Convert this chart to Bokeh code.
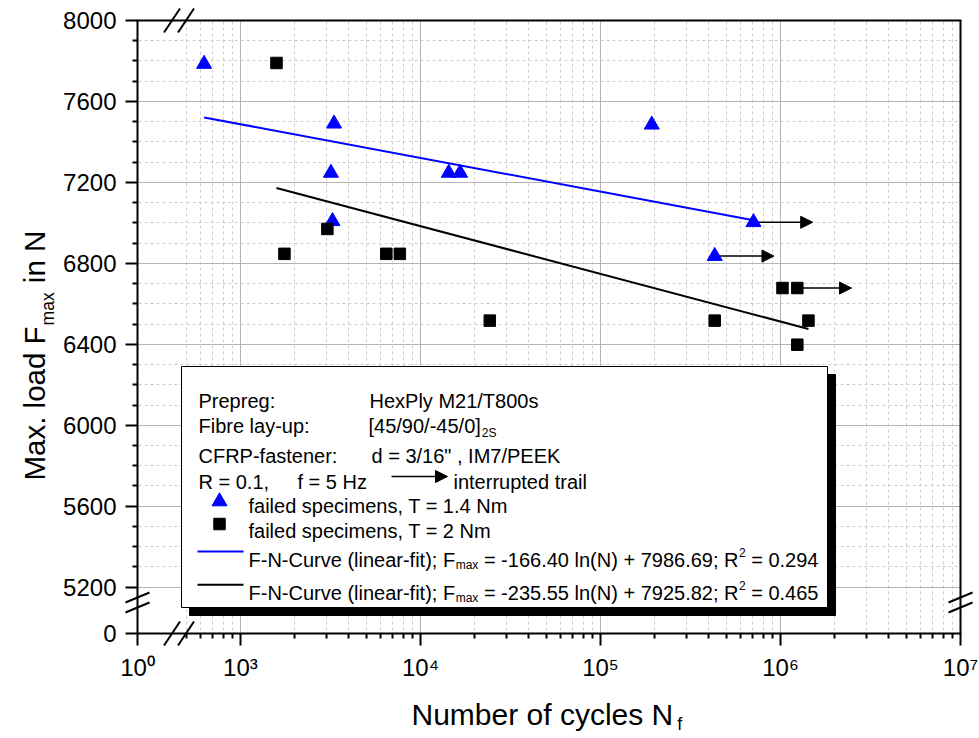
import math
from bokeh.plotting import figure
from bokeh.models import (Range1d, LinearScale, FixedTicker, Label, Arrow,
                          NormalHead, BoxAnnotation)
from bokeh.embed import file_html
from bokeh.resources import INLINE

# ---------------- data ----------------
cycles_t14 = [628, 3310, 3180, 3245, 14360, 16600, 192700, 708000, 431000]
load_t14 = [7785, 7490, 7247, 7008, 7247, 7247, 7485, 7003, 6836]

cycles_t20 = [1585, 1755, 3040, 6460, 7680, 24270, 431000, 1026000, 1240000, 1240000, 1430000]
load_t20 = [7790, 6847, 6970, 6847, 6847, 6517, 6517, 6678, 6678, 6398, 6517]

# interrupted trials (run-outs): arrow start, load level and arrow tip
runout_start = [708000, 431000, 1240000]
runout_load = [7003, 6836, 6678]
runout_end = [1510000, 920000, 2480000]

# fit lines: slope, intercept (F = a*log(N) + b, as drawn) and N extents
fit_t14 = [-166.40, 7986.69]
fit_t14_n = [628, 708000]
fit_t20 = [-235.55, 7925.82]
fit_t20_n = [1585, 1430000]

# axes (broken): "10^0" and "0" sit at the start of the broken axes
x_origin = 10 ** 2.428
y_origin = 4971
x_major = [x_origin, 1e3, 1e4, 1e5, 1e6, 1e7]
x_labels = ["10\u2070", "10\u00b3", "10\u2074", "10\u2075", "10\u2076", "10\u2077"]
x_minor = [k * 10 ** e for e in range(2, 7) for k in range(2, 10) if k * 10 ** e >= 500]
y_major = [y_origin] + list(range(5200, 8001, 400))
y_labels = ["0"] + [str(v) for v in range(5200, 8001, 400)]
y_minor = [v for v in range(5300, 8000, 100) if (v - 5200) % 400 != 0]

BLUE = "#0000ff"
FONT = "Liberation Sans"

# ---------------- layout geometry (page pixels) ----------------
W, H = 979, 738
FL, FR, FT, FB = 137, 960, 20, 633      # visible axes box
DEC = (FR - FL) / (7 - math.log10(x_origin))   # px per decade
KY = (FB - FT) / (8000 - y_origin)             # px per N
x_lo = 10 ** (math.log10(x_origin) - FL / DEC)
x_hi = 10 ** (7 + (W - FR) / DEC)
y_lo = y_origin - (H - FB) / KY
y_hi = 8000 + FT / KY

p = figure(width=W, height=H, x_axis_type="log",
           x_range=Range1d(x_lo, x_hi), y_range=Range1d(y_lo, y_hi),
           output_backend="svg", toolbar_location=None, title=None,
           min_border=0, min_border_left=0, min_border_right=0,
           min_border_top=0, min_border_bottom=0)
p.background_fill_color = "white"
p.border_fill_color = "white"
p.outline_line_color = None

# page-pixel coordinate system for decorations (legend, titles, breaks)
p.extra_x_ranges = {"px": Range1d(0, W)}
p.extra_x_scales = {"px": LinearScale()}
p.extra_y_ranges = {"py": Range1d(H, 0)}
p.extra_y_scales = {"py": LinearScale()}

xt = FixedTicker(ticks=x_major, minor_ticks=x_minor)
yt = FixedTicker(ticks=y_major, minor_ticks=y_minor)
xa, ya = p.xaxis[0], p.yaxis[0]
xa.ticker = xt
ya.ticker = yt
p.xgrid[0].ticker = xt
p.ygrid[0].ticker = yt
xa.fixed_location = y_origin
ya.fixed_location = x_origin
xa.bounds = (x_origin, 1e7)
ya.bounds = (y_origin, 8000)
xa.major_label_overrides = {t: s for t, s in zip(x_major, x_labels)}
ya.major_label_overrides = {t: s for t, s in zip(y_major, y_labels)}

for ax in (xa, ya):
    ax.axis_line_width = 2
    ax.axis_line_color = "black"
    ax.major_tick_line_width = 2
    ax.minor_tick_line_width = 2
    ax.major_tick_in = 0
    ax.major_tick_out = 12
    ax.minor_tick_in = 0
    ax.minor_tick_out = 5
    ax.major_label_text_font = FONT
    ax.major_label_text_font_size = "24px"
    ax.major_label_text_color = "black"
xa.major_label_standoff = 8
ya.major_label_standoff = 9

for g in (p.xgrid[0], p.ygrid[0]):
    g.grid_line_color = "#b4b4b4"
    g.grid_line_width = 1
    g.minor_grid_line_color = "#cdcdcd"
    g.minor_grid_line_dash = "3 3"
    g.minor_grid_line_width = 1

# white masks outside the axes box (keep grid lines inside it)
for l, r, t, b in ((0, W, 0, FT), (0, W, FB, H), (0, FL, 0, H), (FR, W, 0, H)):
    p.add_layout(BoxAnnotation(left=l, right=r, top=t, bottom=b,
                               x_range_name="px", y_range_name="py", level="underlay",
                               fill_color="white", fill_alpha=1, line_color=None))

# ---------------- data marks ----------------
for a_b, ns, col in ((fit_t14, fit_t14_n, BLUE), (fit_t20, fit_t20_n, "black")):
    fy = [a_b[0] * math.log10(n) + a_b[1] for n in ns]
    p.line(ns, fy, line_color=col, line_width=2)

for xs, xe, yv in zip(runout_start, runout_end, runout_load):
    p.add_layout(Arrow(x_start=xs, y_start=yv, x_end=xe, y_end=yv,
                       line_color="black", line_width=1.5, level="underlay",
                       end=NormalHead(size=12, fill_color="black", line_color="black")))

p.scatter(cycles_t14, load_t14, marker="triangle", size=15, fill_color=BLUE,
          line_color=BLUE, line_width=1)
p.scatter(cycles_t20, load_t20, marker="square", size=11.5, fill_color="black",
          line_color="black", line_width=1)

# ---------------- helpers (page pixel coordinates) ----------------
Wd = {' ': 278, '!': 278, '"': 355, "'": 191, '(': 333, ')': 333, '+': 584, ',': 278,
      '-': 333, '.': 278, '/': 278, ':': 278, ';': 278, '=': 584, '[': 278, ']': 278}
for c in "0123456789":
    Wd[c] = 556
for c, w in zip("ABCDEFGHIJKLMNOPQRSTUVWXYZ",
                [667, 667, 722, 722, 667, 611, 778, 722, 278, 500, 667, 556, 833,
                 722, 778, 667, 778, 722, 667, 611, 722, 667, 944, 667, 667, 611]):
    Wd[c] = w
for c, w in zip("abcdefghijklmnopqrstuvwxyz",
                [556, 556, 500, 556, 556, 278, 556, 556, 222, 222, 500, 222, 833,
                 556, 556, 556, 556, 333, 500, 278, 556, 500, 722, 500, 500, 500]):
    Wd[c] = w


def tw(s, size):
    return sum(Wd.get(c, 556) for c in s) / 1000.0 * size


def txt(x, y, s, size, angle=0.0):
    p.add_layout(Label(x=x, y=y, x_range_name="px", y_range_name="py", text=s,
                       text_font=FONT, text_font_size=f"{size}px", text_color="black",
                       text_align="left", text_baseline="alphabetic", angle=angle))


def seg(x0, y0, x1, y1, width=2):
    p.add_layout(Arrow(x_start=x0, y_start=y0, x_end=x1, y_end=y1, end=None,
                       x_range_name="px", y_range_name="py",
                       line_color="black", line_width=width))


# ---------------- top / right frame lines and axis breaks ----------------
seg(FL - 1, FT, FR + 1, FT)
seg(FR, FT, FR, FB + 1)
for cx in (171.5, 185.5):
    for cy in (FT, FB):
        seg(cx - 8, cy + 12, cx + 8, cy - 12)
for cx in (FL, FR):
    for cy in (597, 607):
        seg(cx - 12, cy + 5, cx + 12, cy - 5)

# ---------------- axis titles ----------------
xt_fs, xt_sub = 30, 18
xt_x = 411
txt(xt_x, 714, "Number of cycles N", xt_fs)
txt(xt_x + tw("Number of cycles N", xt_fs) + 4, 723, "f", xt_sub)

yt_fs, yt_sub = 29.5, 17.5
yb, ys = 33.5, 480
w1 = tw("Max. load F", yt_fs)
txt(yb, ys, "Max. load F", yt_fs, angle=math.pi / 2)
txt(yb + 13.5, ys - w1 - 1, "max", yt_sub, angle=math.pi / 2)
txt(yb, ys - w1 - 2 - tw("max", yt_sub) - tw(" ", yt_fs), "in N", yt_fs, angle=math.pi / 2)

# ---------------- legend box ----------------
p.add_layout(BoxAnnotation(left=189, right=835, top=374, bottom=615,
                           x_range_name="px", y_range_name="py", level="underlay",
                           fill_color="black", fill_alpha=1, line_color="black", line_alpha=1))
p.add_layout(BoxAnnotation(left=181, right=827, top=366, bottom=607,
                           x_range_name="px", y_range_name="py", level="underlay",
                           fill_color="white", fill_alpha=1, line_color="black",
                           line_alpha=1, line_width=1))

LF = 20
txt(198, 400.7, "Prepreg:", LF)
txt(369, 400.7, "HexPly M21/T800s", LF)
txt(198, 425.7, "Fibre lay-up:", LF)
txt(368, 425.7, "[45/90/-45/0]", LF)
txt(368 + tw("[45/90/-45/0]", LF) + 1, 432.3, "2S", 12)
txt(198, 455.7, "CFRP-fastener:", LF)
txt(371, 455.7, "d = 3/16\" , IM7/PEEK", LF)
txt(198, 481.7, "R = 0.1,", LF)
txt(297, 481.7, "f = 5 Hz", LF)
p.add_layout(Arrow(x_start=391, y_start=476, x_end=447, y_end=476,
                   x_range_name="px", y_range_name="py", line_color="black", line_width=1.5,
                   end=NormalHead(size=12, fill_color="black", line_color="black")))
txt(453, 481.7, "interrupted trail", LF)

p.scatter([219], [501], x_range_name="px", y_range_name="py", marker="triangle",
          size=15, fill_color=BLUE, line_color=BLUE)
txt(248, 505.7, "failed specimens, T = 1.4 Nm", LF)
p.scatter([219], [523.5], x_range_name="px", y_range_name="py", marker="square",
          size=11.5, fill_color="black", line_color="black")
txt(248, 530.7, "failed specimens, T = 2 Nm", LF)

for base, col, eq in ((559, BLUE, ("= -166.40 ln(N) + 7986.69; R", "= 0.294")),
                      (592.3, "black", ("= -235.55 ln(N) + 7925.82; R", "= 0.465"))):
    p.line([197, 243], [base - 8, base - 8], x_range_name="px", y_range_name="py",
           line_color=col, line_width=2)
    x = 248
    s1 = "F-N-Curve (linear-fit); F"
    txt(x, base, s1, LF)
    x += tw(s1, LF)
    txt(x + 0.5, base + 5.5, "max", 12)
    x += tw("max", 12) + tw(" ", LF) + 0.5
    txt(x, base, eq[0], LF)
    x += tw(eq[0], LF)
    txt(x + 0.5, base - 7.5, "2", 12)
    x += tw("2", 12) + tw(" ", LF) + 0.5
    txt(x, base, eq[1], LF)

open("out.html", "w").write(file_html(p, INLINE))
